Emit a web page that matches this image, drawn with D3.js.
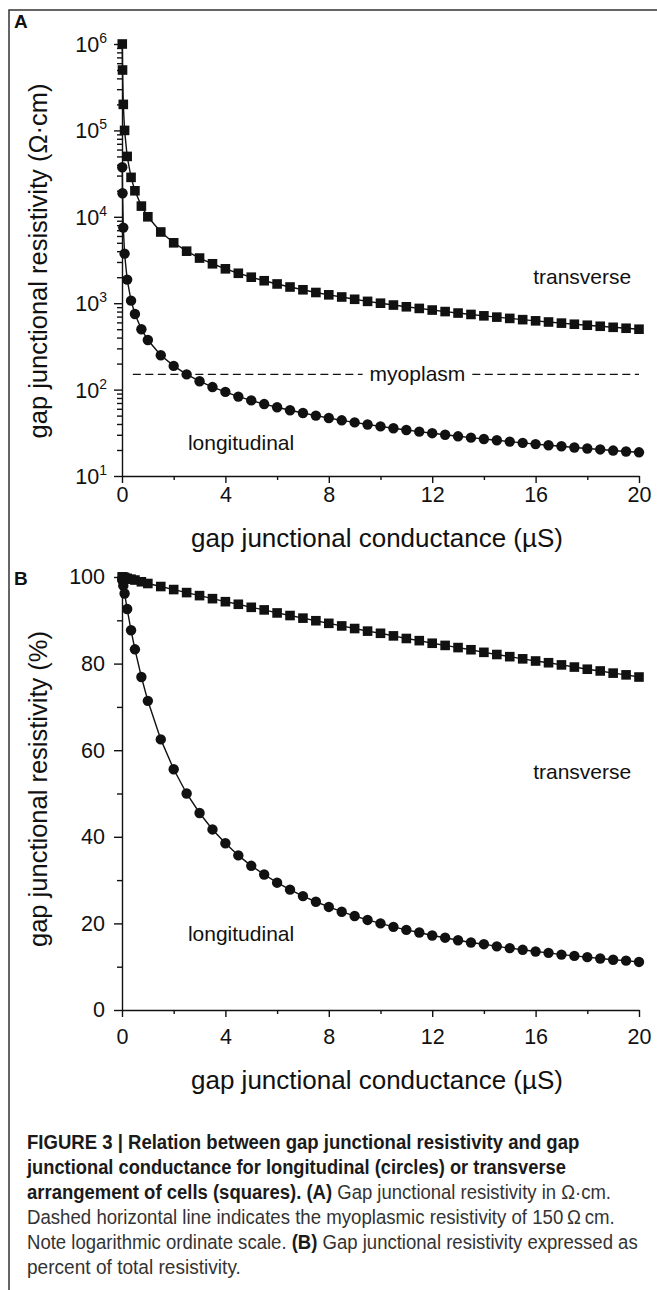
<!DOCTYPE html>
<html>
<head>
<meta charset="utf-8">
<script src="https://cdn.jsdelivr.net/npm/d3@7"></script>
<style>
    body { margin: 0; background: #fff; }
    svg { display: block; font-family: "Liberation Sans", Arial, Helvetica, sans-serif; }
</style>
</head>
<body>
<svg id="fig" width="657" height="1290"></svg>
<script>
// gap junctional conductance (uS) at each computed point
const conductance = [0.01, 0.02, 0.05, 0.1, 0.2, 0.35, 0.5, 0.75, 1, 1.5, 2, 2.5, 3, 3.5, 4, 4.5, 5, 5.5, 6, 6.5,
    7, 7.5, 8, 8.5, 9, 9.5, 10, 10.5, 11, 11.5, 12, 12.5, 13, 13.5, 14, 14.5, 15, 15.5, 16, 16.5,
    17, 17.5, 18, 18.5, 19, 19.5, 20]

// panel A, resistivity in ohm.cm
const longRes = [37500, 18750, 7500, 3750, 1875, 1070, 750, 500, 375, 250, 188, 150, 125, 107, 94, 83, 75, 68, 62.5, 57.7,
    53.6, 50, 46.9, 44.1, 41.7, 39.5, 37.5, 35.7, 34.1, 32.6, 31.3, 30, 28.8, 27.8, 26.8, 25.9, 25, 24.2, 23.4, 22.7,
    22.1, 21.4, 20.8, 20.3, 19.7, 19.2, 18.8]
const transRes = [1000000, 500000, 200000, 100000, 50000, 28600, 20000, 13300, 10000, 6670, 5000, 4000, 3330, 2860, 2500, 2220, 2000, 1820, 1670, 1540,
    1430, 1330, 1250, 1180, 1110, 1050, 1000, 952, 909, 870, 833, 800, 769, 741, 714, 690, 667, 645, 625, 606,
    588, 571, 556, 541, 526, 513, 500]

// panel B, percent of total resistivity
const longPct = [99.6, 99.2, 98.0, 96.2, 92.6, 87.7, 83.3, 76.9, 71.4, 62.5, 55.6, 50.0, 45.5, 41.7, 38.5, 35.7, 33.3, 31.3, 29.4, 27.8,
    26.3, 25.0, 23.8, 22.7, 21.7, 20.8, 20.0, 19.2, 18.5, 17.9, 17.2, 16.7, 16.1, 15.6, 15.2, 14.7, 14.3, 13.9, 13.5, 13.2,
    12.8, 12.5, 12.2, 11.9, 11.6, 11.4, 11.1]
const transPct = [100.0, 100.0, 99.9, 99.9, 99.7, 99.5, 99.3, 98.9, 98.5, 97.8, 97.1, 96.4, 95.7, 95.0, 94.3, 93.7, 93.0, 92.4, 91.7, 91.1,
    90.5, 89.9, 89.3, 88.7, 88.1, 87.5, 87.0, 86.4, 85.8, 85.3, 84.7, 84.2, 83.7, 83.2, 82.6, 82.1, 81.6, 81.1, 80.6, 80.2,
    79.7, 79.2, 78.7, 78.3, 77.8, 77.4, 76.9]

const myoplasmRes = 150

const xTicks = [0, 4, 8, 12, 16, 20]
const xMinorTicks = [2, 6, 10, 14, 18]
const logTicks = [1e1, 1e2, 1e3, 1e4, 1e5, 1e6]
const pctTicks = [0, 20, 40, 60, 80, 100]
const pctMinorTicks = [10, 30, 50, 70, 90]

const xTitle = 'gap junctional conductance (\u00b5S)'
const yTitleA = 'gap junctional resistivity (\u03a9\u00b7cm)'
const yTitleB = 'gap junctional resistivity (%)'

// caption lines: [text, bold] pieces, and the width each line takes
const captionLines = [
    [['FIGURE 3 | Relation between gap junctional resistivity and gap', true]],
    [['junctional conductance for longitudinal (circles) or transverse', true]],
    [['arrangement of cells (squares). (A)', true], [' Gap junctional resistivity in \u03a9\u00b7cm.', false]],
    [['Dashed horizontal line indicates the myoplasmic resistivity of 150\u2009\u03a9\u2009cm.', false]],
    [['Note logarithmic ordinate scale. ', false], ['(B)', true], [' Gap junctional resistivity expressed as', false]],
    [['percent of total resistivity.', false]]
]
const captionWidths = [553, 539, 584, 588, 611, 214]

const INK = '#111'
let svg = d3.select('#fig')

// frame of the figure (top and left rules)
svg.append('path')
    .attr('d', 'M9,1290V10H657')
    .attr('fill', 'none')
    .attr('stroke', '#333')
    .attr('stroke-width', 1.5)

let x = d3.scaleLinear().domain([0, 20]).range([122, 639])
let yA = d3.scaleLog().domain([10, 1e6]).range([476, 44])
let yB = d3.scaleLinear().domain([0, 100]).range([1010, 577])

let styleAxis = (g) => {
    g.attr('font-size', 21.5).attr('font-family', null)
    g.select('.domain').attr('stroke', INK).attr('stroke-width', 1.4)
    g.selectAll('.tick line').attr('stroke', INK).attr('stroke-width', 1.4)
    g.selectAll('.tick text').attr('fill', INK)
}

let drawXAxis = (yPos, pad) => {
    svg.append('g')
        .attr('transform', 'translate(0,' + yPos + ')')
        .call(d3.axisBottom(x).tickValues(xMinorTicks).tickSize(4).tickFormat(''))
        .call(g => g.select('.domain').remove())
        .call(styleAxis)
    svg.append('g')
        .attr('transform', 'translate(0,' + yPos + ')')
        .call(d3.axisBottom(x).tickValues(xTicks).tickSize(7).tickSizeOuter(0).tickPadding(pad).tickFormat(d3.format('d')))
        .call(styleAxis)
}

let drawSeries = (yScale, values, shape) => {
    let pts = conductance.map((g, i) => [x(g), yScale(values[i])])
    svg.append('path')
        .attr('d', d3.line()(pts))
        .attr('fill', 'none')
        .attr('stroke', INK)
        .attr('stroke-width', 1.4)
    if (shape === 'square') {
        svg.append('g').selectAll('rect')
            .data(pts)
            .enter()
            .append('rect')
            .attr('x', d => d[0] - 4.8)
            .attr('y', d => d[1] - 4.8)
            .attr('width', 9.6)
            .attr('height', 9.6)
            .attr('fill', INK)
    } else {
        svg.append('g').selectAll('circle')
            .data(pts)
            .enter()
            .append('circle')
            .attr('cx', d => d[0])
            .attr('cy', d => d[1])
            .attr('r', 5.2)
            .attr('fill', INK)
    }
}

let label = (txt, px, py, anchor, size) => {
    return svg.append('text')
        .attr('x', px)
        .attr('y', py)
        .attr('text-anchor', anchor)
        .attr('font-size', size)
        .attr('fill', INK)
        .text(txt)
}

let yLabel = (txt, cy) => {
    svg.append('text')
        .attr('transform', 'translate(47,' + cy + ') rotate(-90)')
        .attr('text-anchor', 'middle')
        .attr('font-size', 25.5)
        .attr('fill', INK)
        .text(txt)
}

// ---------------- panel A ----------------
label('A', 14, 28, 'start', 19).attr('font-weight', 'bold')

// minor log ticks
svg.append('g')
    .attr('transform', 'translate(122,0)')
    .call(d3.axisLeft(yA).tickValues(yA.ticks().filter(v => logTicks.indexOf(v) < 0)).tickSize(5).tickFormat(''))
    .call(g => g.select('.domain').remove())
    .call(styleAxis)

let axisA = svg.append('g')
    .attr('transform', 'translate(122,0)')
    .call(d3.axisLeft(yA).tickValues(logTicks).tickSize(8).tickSizeOuter(0).tickFormat(''))
    .call(styleAxis)

axisA.selectAll('.tick').each(function (d) {
    let t = d3.select(this).append('text')
        .attr('x', -15)
        .attr('dy', '0.35em')
        .attr('text-anchor', 'end')
        .attr('fill', INK)
    t.append('tspan').text('10')
    t.append('tspan').attr('font-size', 14).attr('dy', -9).text(Math.round(Math.log10(d)))
})

drawXAxis(476, 4)

// myoplasm reference line, with the word sitting in a gap
let myoY = yA(myoplasmRes)
let myoText = label('myoplasm', x(11.43), myoY + 7, 'middle', 21)
let box = myoText.node().getBBox()
let dashSegs = [[x(0.42), box.x - 7], [box.x + box.width + 7, x(20)]]
svg.append('g').selectAll('line')
    .data(dashSegs)
    .enter()
    .append('line')
    .attr('x1', d => d[0])
    .attr('x2', d => d[1])
    .attr('y1', myoY)
    .attr('y2', myoY)
    .attr('stroke', INK)
    .attr('stroke-width', 1.4)
    .attr('stroke-dasharray', '8,4.5')

drawSeries(yA, transRes, 'square')
drawSeries(yA, longRes, 'circle')

label('transverse', x(19.7), yA(2000) + 7, 'end', 21)
label('longitudinal', x(2.55), yA(24) + 7, 'start', 21)

yLabel(yTitleA, 261)
label(xTitle, 377, 547, 'middle', 26)

// ---------------- panel B ----------------
label('B', 14, 585, 'start', 19).attr('font-weight', 'bold')

svg.append('g')
    .attr('transform', 'translate(122,0)')
    .call(d3.axisLeft(yB).tickValues(pctMinorTicks).tickSize(5).tickFormat(''))
    .call(g => g.select('.domain').remove())
    .call(styleAxis)
svg.append('g')
    .attr('transform', 'translate(122,0)')
    .call(d3.axisLeft(yB).tickValues(pctTicks).tickSize(8).tickSizeOuter(0).tickPadding(9).tickFormat(d3.format('d')))
    .call(styleAxis)

drawXAxis(1010, 12)

drawSeries(yB, transPct, 'square')
drawSeries(yB, longPct, 'circle')

label('transverse', x(19.7), yB(55) + 7, 'end', 21)
label('longitudinal', x(2.55), yB(17.5) + 7, 'start', 21)

yLabel(yTitleB, 789)
label(xTitle, 377, 1089, 'middle', 26)

// ---------------- caption ----------------
let cap = svg.append('g')
    .attr('font-family', '"Liberation Sans Narrow", "Liberation Sans", Arial, sans-serif')
    .attr('font-size', 19.5)

captionLines.forEach((line, i) => {
    let t = cap.append('text').attr('x', 0).attr('y', 0)
    line.forEach(piece => {
        t.append('tspan')
            .attr('font-weight', piece[1] ? 'bold' : 'normal')
            .attr('fill', piece[1] ? '#1a1a1a' : '#333')
            .text(piece[0])
    })
    let w = t.node().getComputedTextLength()
    t.attr('transform', 'translate(27,' + (1149 + i * 25) + ') scale(' + (captionWidths[i] / w) + ',1)')
})
</script>
</body>
</html>
